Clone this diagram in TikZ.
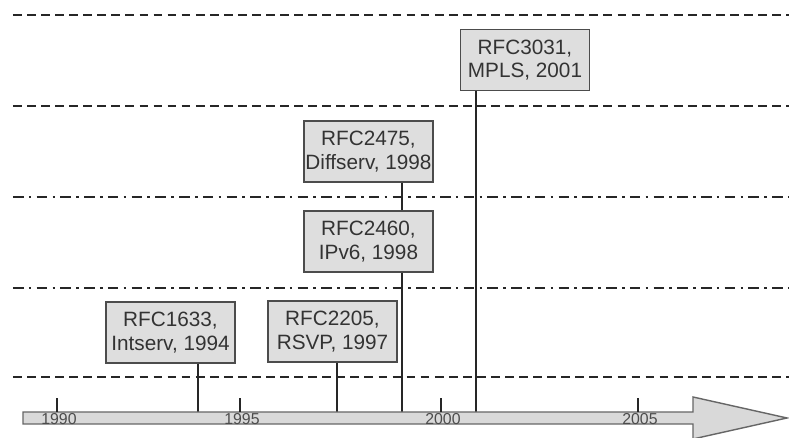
\documentclass[tikz,border=0pt]{standalone}
\usepackage{fontspec}
\setmainfont{Liberation Sans}
\begin{document}
\begin{tikzpicture}[every node/.style={font=\fontsize{11.8}{13.4}\selectfont}]
  \tikzstyle{rfc}=[draw=black!70, fill=black!13, text=black!80, align=center, line width=0.8pt,
    minimum width=2.58cm, minimum height=1.22cm, inner sep=0pt]
  \tikzstyle{yr}=[text=black!70, font=\fontsize{9}{10}\selectfont, inner sep=0pt]
  \tikzstyle{era}=[black!85, line width=0.75pt, dash pattern=on 5pt off 3pt]
  \tikzstyle{erad}=[black!85, line width=0.75pt, dash pattern=on 6pt off 3pt on 1.5pt off 3pt]
  \tikzstyle{lnk}=[black!85, line width=0.75pt]
  \useasboundingbox (0,0) rectangle (15.78,8.76);
  \draw[era]  (0.26,8.46) -- (15.78,8.46);
  \draw[era]  (0.26,6.64) -- (15.78,6.64);
  \draw[erad] (0.26,4.82) -- (15.78,4.82);
  \draw[erad] (0.26,3.00) -- (15.78,3.00);
  \draw[era]  (0.26,1.22) -- (15.78,1.22);
  \node[rfc] (mpls)     at (10.50, 7.56) {RFC3031,\\MPLS, 2001};
  \node[rfc] (diffserv) at (7.37, 5.73)  {RFC2475,\\Diffserv, 1998};
  \node[rfc] (ipv6)     at (7.37, 3.93)  {RFC2460,\\IPv6, 1998};
  \node[rfc] (intserv)  at (3.41, 2.11)  {RFC1633,\\Intserv, 1994};
  \node[rfc] (rsvp)     at (6.65, 2.13)  {RFC2205,\\RSVP, 1997};
  \coordinate (t94) at (3.96, 0.52);
  \coordinate (t97) at (6.74, 0.52);
  \coordinate (t98) at (8.04, 0.52);
  \coordinate (t01) at (9.52, 0.52);
  \draw[lnk] (intserv.south -| t94) -- (t94);
  \draw[lnk] (rsvp.south -| t97) -- (t97);
  \draw[lnk] (diffserv.south -| t98) -- (ipv6.north -| t98);
  \draw[lnk] (ipv6.south -| t98) -- (t98);
  \draw[lnk] (mpls.south -| t01) -- (t01);
  \draw[draw=black!60, fill=black!15, line width=0.8pt] (0.46,0.28) -- (0.46,0.52) -- (13.86,0.52)
    -- (13.86,0.82) -- (15.74,0.40) -- (13.86,-0.02) -- (13.86,0.28) -- cycle;
  \foreach \x/\v in {1.14/1990, 4.80/1995, 8.82/2000, 12.76/2005} {
    \draw[black!85, line width=1.2pt] (\x,0.52) -- (\x,0.80);
    \node[yr] (y\v) at (\x+0.04,0.38) {\v};
  }
\end{tikzpicture}
\end{document}
